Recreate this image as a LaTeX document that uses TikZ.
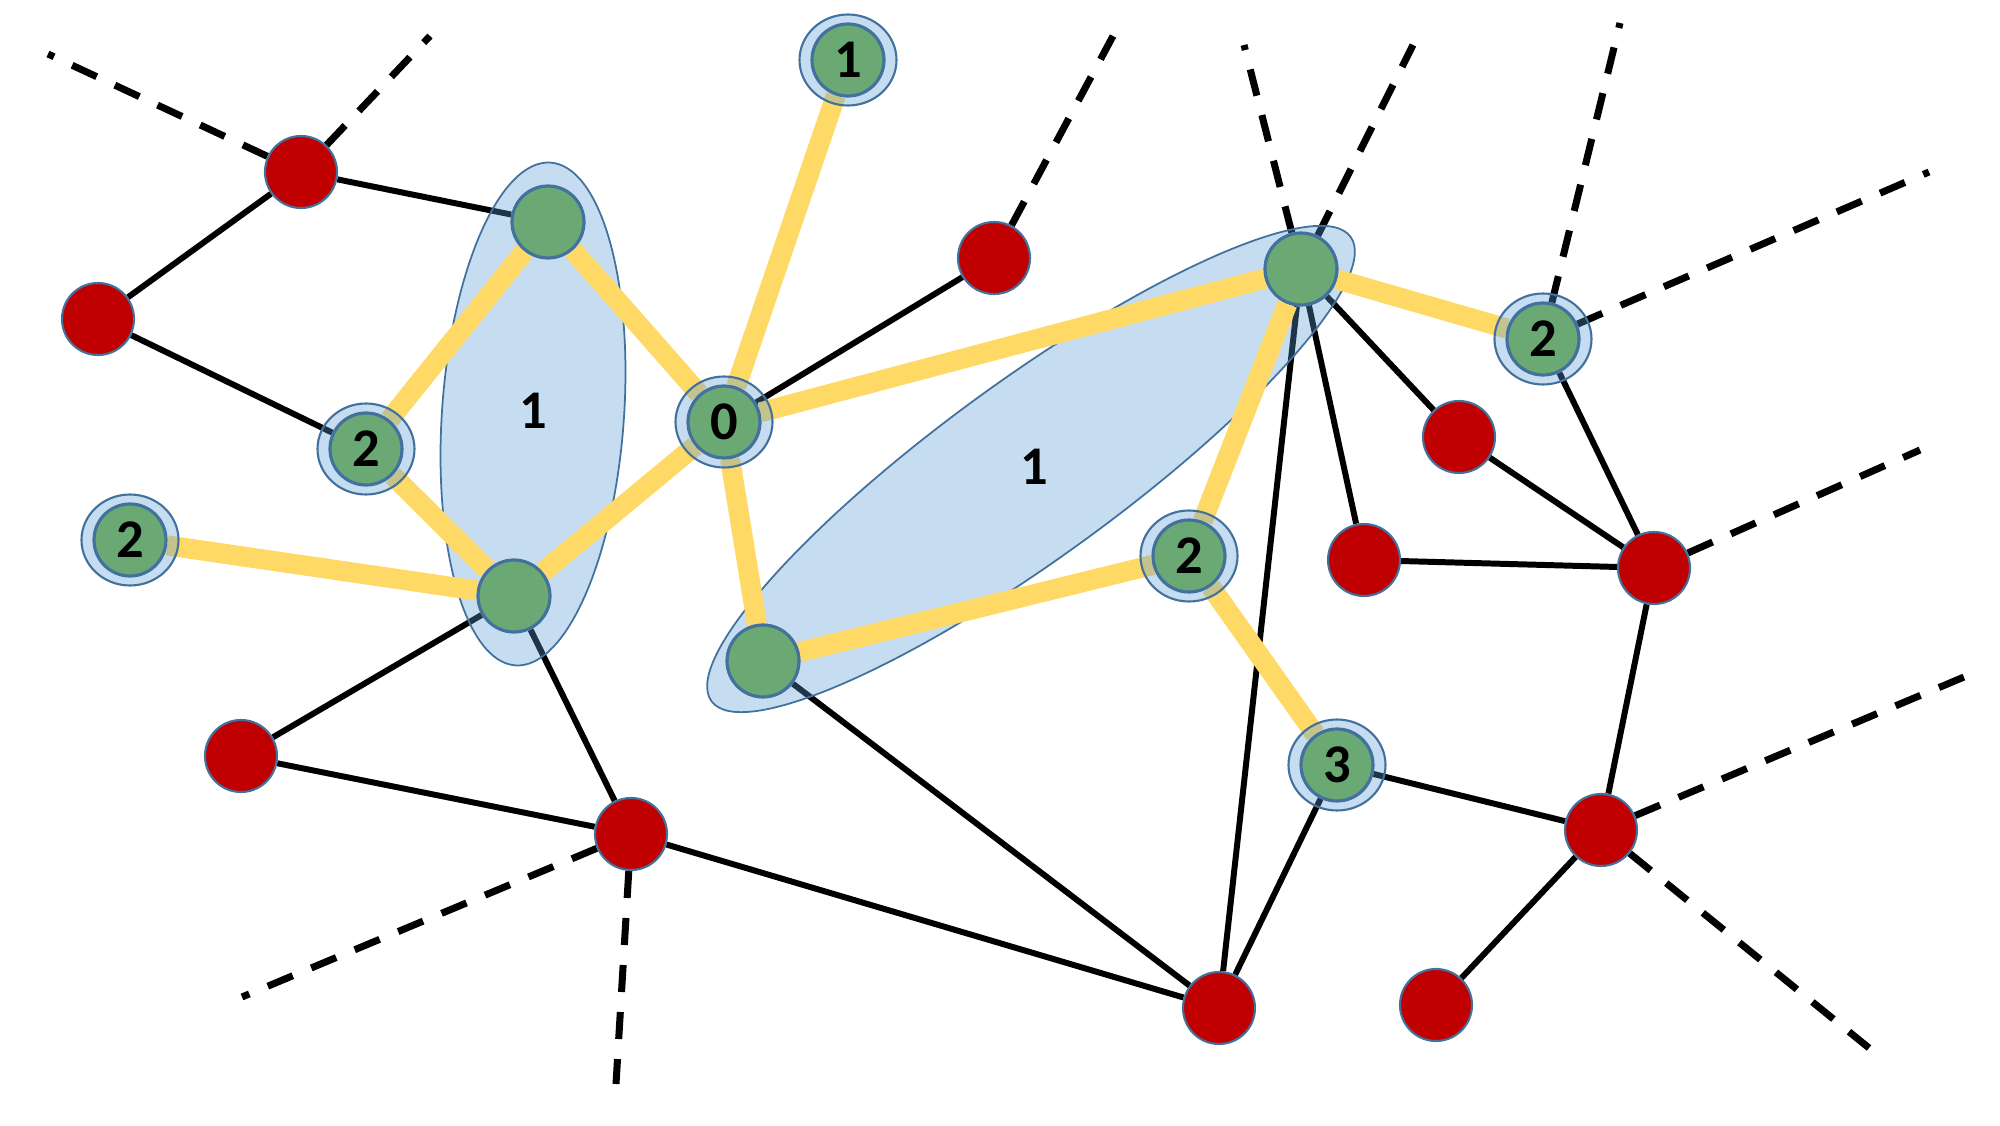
\documentclass[tikz,border=0pt]{standalone}
\usepackage{fontspec}
\setmainfont{Carlito}
\definecolor{nodered}{HTML}{C00000}
\definecolor{nodegreen}{HTML}{6AA874}
\definecolor{hopyellow}{HTML}{FFD966}
\definecolor{rimblue}{HTML}{41719C}
\definecolor{groupblue}{HTML}{5B9BD5}
\pgfdeclarelayer{edges}
\pgfdeclarelayer{groups}
\pgfdeclarelayer{links}
\pgfdeclarelayer{rings}
\pgfsetlayers{edges,groups,links,rings,main}

\begin{document}
\begin{tikzpicture}[
    rnode/.style={circle, fill=nodered, draw=rimblue, line width=0.6pt, minimum size=7.2mm, inner sep=0pt},
    gnode/.style={circle, fill=nodegreen, draw=rimblue, line width=0.9pt, minimum size=7.2mm, inner sep=0pt},
    ring/.style={fill=groupblue, fill opacity=0.35, draw=rimblue, line width=0.6pt},
    group/.style={fill=groupblue, fill opacity=0.35, draw=rimblue, line width=0.5pt},
    wire/.style={line width=1.7pt},
    stub/.style={line width=2pt, dash pattern=on 7.7pt off 5.7pt},
    hop/.style={line width=5.7pt, draw=hopyellow},
    every node/.style={font=\bfseries\fontsize{15.5}{18}\selectfont}
]
\useasboundingbox (0,0) rectangle (20,11.25);

% red nodes
\node[rnode] (r1) at (3.01,9.53) {};
\node[rnode] (r2) at (0.98,8.06) {};
\node[rnode] (r3) at (9.94,8.67) {};
\node[rnode] (r4) at (2.41,3.69) {};
\node[rnode] (r5) at (6.31,2.91) {};
\node[rnode] (r6) at (14.59,6.88) {};
\node[rnode] (r7) at (13.64,5.65) {};
\node[rnode] (r8) at (16.54,5.57) {};
\node[rnode] (r9) at (16.01,2.95) {};
\node[rnode] (r10) at (12.19,1.17) {};
\node[rnode] (r11) at (14.36,1.20) {};

% green nodes
\node[gnode] (g1) at (5.48,9.03) {};
\node[gnode] (g2) at (5.14,5.29) {};
\node[gnode] (g3) at (7.63,4.64) {};
\node[gnode] (g4) at (13.01,8.56) {};

% counted nodes
\node[gnode] (k0) at (7.24,7.03) {0};
\node[gnode] (k1) at (8.48,10.65) {1};
\node[gnode] (k2a) at (3.66,6.76) {2};
\node[gnode] (k2b) at (1.30,5.85) {2};
\node[gnode] (k2c) at (15.43,7.86) {2};
\node[gnode] (k2d) at (11.89,5.69) {2};
\node[gnode] (k3) at (13.37,3.60) {3};

% group labels
\node (l1) at (5.33,7.14) {1};
\node (l2) at (10.34,6.58) {1};

% free ends
\coordinate (e1) at (0.48,10.71);
\coordinate (e2) at (4.30,10.89);
\coordinate (e3) at (11.13,10.89);
\coordinate (e4) at (12.44,10.80);
\coordinate (e5) at (14.13,10.80);
\coordinate (e6) at (16.20,11.02);
\coordinate (e7) at (19.29,9.53);
\coordinate (e8) at (19.20,6.75);
\coordinate (e9) at (19.64,4.48);
\coordinate (e10) at (18.69,0.77);
\coordinate (e11) at (2.42,1.28);
\coordinate (e12) at (6.16,0.41);

\begin{pgfonlayer}{edges}
% dashed stubs
\draw[stub] (r1) -- (e1);
\draw[stub] (r1) -- (e2);
\draw[stub] (r3) -- (e3);
\draw[stub] (g4) -- (e4);
\draw[stub] (g4) -- (e5);
\draw[stub] (k2c) -- (e6);
\draw[stub] (k2c) -- (e7);
\draw[stub] (r8) -- (e8);
\draw[stub] (r9) -- (e9);
\draw[stub] (r9) -- (e10);
\draw[stub] (r5) -- (e11);
\draw[stub] (r5) -- (e12);

% black links
\draw[wire] (r1) -- (r2);
\draw[wire] (r1) -- (g1);
\draw[wire] (r2) -- (k2a);
\draw[wire] (r3) -- (k0);
\draw[wire] (g2) -- (r4);
\draw[wire] (g2) -- (r5);
\draw[wire] (r4) -- (r5);
\draw[wire] (r5) -- (r10);
\draw[wire] (g3) -- (r10);
\draw[wire] (g4) -- (r10);
\draw[wire] (g4) -- (r6);
\draw[wire] (g4) -- (r7);
\draw[wire] (k3) -- (r10);
\draw[wire] (k3) -- (r9);
\draw[wire] (r6) -- (r8);
\draw[wire] (r7) -- (r8);
\draw[wire] (k2c) -- (r8);
\draw[wire] (r8) -- (r9);
\draw[wire] (r9) -- (r11);
\end{pgfonlayer}

\begin{pgfonlayer}{groups}
\draw[group, rotate around={-4:(5.33,7.11)}] (5.33,7.11) ellipse [x radius=0.91, y radius=2.52];
\draw[group, rotate around={36:(10.31,6.56)}] (10.31,6.56) ellipse [x radius=3.95, y radius=0.89];
\end{pgfonlayer}

\begin{pgfonlayer}{links}
% yellow hops
\draw[hop] (g1) -- (k2a);
\draw[hop] (g1) -- (k0);
\draw[hop] (k2a) -- (g2);
\draw[hop] (k2b) -- (g2);
\draw[hop] (g2) -- (k0);
\draw[hop] (k0) -- (k1);
\draw[hop] (k0) -- (g4);
\draw[hop] (k0) -- (g3);
\draw[hop] (g3) -- (k2d);
\draw[hop] (g4) -- (k2d);
\draw[hop] (g4) -- (k2c);
\draw[hop] (k2d) -- (k3);
\end{pgfonlayer}

\begin{pgfonlayer}{rings}
\foreach \k in {k0,k1,k2a,k2b,k2c,k2d,k3}
  \draw[ring] (\k.center) ellipse [x radius=0.485, y radius=0.455];
\end{pgfonlayer}

\end{tikzpicture}
\end{document}
